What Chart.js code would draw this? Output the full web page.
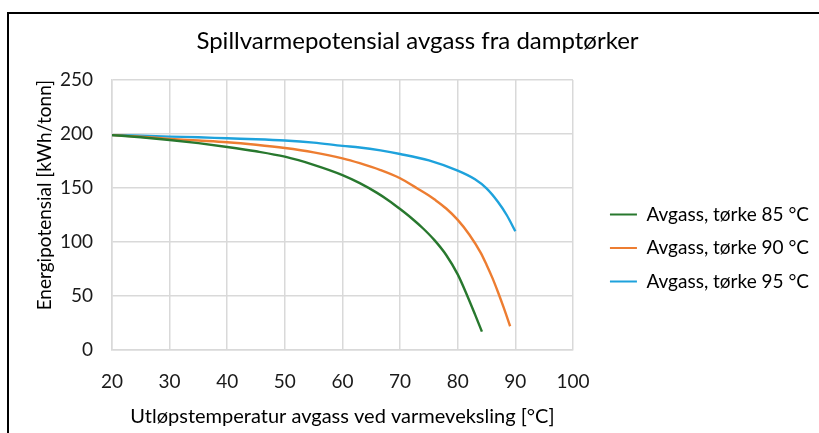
<!DOCTYPE html>
<html>
<head>
<meta charset="utf-8">
<script src="https://cdn.jsdelivr.net/npm/chart.js@4.4.1/dist/chart.umd.min.js"></script>
<style>
html,body{margin:0;padding:0;background:#fff;}
#wrap{width:819px;height:433px;position:relative;}
</style>
</head>
<body>
<div id="wrap"><canvas id="c" width="819" height="433"></canvas></div>
<script>
const chartTitle = "Spillvarmepotensial avgass fra damptørker";
const xTitle = "Utløpstemperatur avgass ved varmeveksling [°C]";
const yTitle = "Energipotensial [kWh/tonn]";
const seriesNames = ["Avgass, tørke 85 °C", "Avgass, tørke 90 °C", "Avgass, tørke 95 °C"];
const seriesColors = ["#28782E", "#ED7D31", "#1EA2DC"];
const xTicks = [20, 30, 40, 50, 60, 70, 80, 90, 100];
const yTicks = [0, 50, 100, 150, 200, 250];

const x85 = [20, 25, 30, 35, 40, 45, 50, 55, 60, 63, 66, 68, 70, 72, 74, 76, 78, 80, 81.6, 83, 84.2];
const y85 = [199, 197, 194.5, 191.5, 188, 184, 179, 171.5, 162, 154.5, 145.5, 138.5, 130.5, 122, 112.5, 101.5, 88, 70, 51, 33, 17];

const x90 = [20, 25, 30, 35, 40, 45, 50, 55, 60, 63, 66.6, 70, 73, 75, 76, 78, 80, 82, 84, 85, 86, 87, 88, 89.1];
const y90 = [199, 197.5, 195.5, 194, 192.4, 190, 187, 183, 177.5, 173, 166.6, 159, 149.5, 143, 139.3, 131, 120.5, 107, 90, 79, 67, 53.5, 39, 22];

const x95 = [20, 25, 30, 35, 40, 45, 50, 55, 60, 63, 66.6, 70, 75, 80, 83, 85, 87, 88.5, 90];
const y95 = [199, 198.5, 197.6, 197, 196, 195.2, 194, 192, 189, 187.5, 184.8, 181.5, 175.5, 166, 158, 149.6, 137, 125, 110];

const FONT = "Lato, 'Open Sans', sans-serif";
const xs = [x85, x90, x95], ys = [y85, y90, y95];

const datasets = seriesNames.map((name, i) => ({
  label: name,
  data: xs[i].map((x, j) => ({x: x, y: ys[i][j]})),
  borderColor: seriesColors[i],
  backgroundColor: seriesColors[i],
  borderWidth: 2.4,
  pointRadius: 0,
  cubicInterpolationMode: 'monotone',
  fill: false
}));

const framePlugin = {
  id: 'frame',
  afterLayout(chart) {
    const t = chart.titleBlock;
    if (t) { t.left -= 8.5; t.right -= 8.5; }
  },
  afterDraw(chart) {
    const ctx = chart.ctx;
    ctx.save();
    ctx.strokeStyle = '#000';
    ctx.lineWidth = 2;
    ctx.beginPath();
    ctx.moveTo(8, 433);
    ctx.lineTo(8, 13);
    ctx.lineTo(819, 13);
    ctx.stroke();
    ctx.restore();
  }
};

new Chart(document.getElementById('c'), {
  type: 'line',
  data: {datasets},
  plugins: [framePlugin],
  options: {
    responsive: false,
    animation: false,
    layout: {padding: {left: 33, right: 0, top: 17, bottom: 4}},
    plugins: {
      title: {
        display: true,
        text: chartTitle,
        color: '#000',
        font: {family: FONT, size: 24, weight: 'normal'},
        padding: {top: 10, bottom: 24.2}
      },
      legend: {
        display: true,
        position: 'right',
        maxWidth: 400,
        title: {display: true, text: '', font: {size: 10}, padding: {top: 19, bottom: 19}},
        labels: {
          color: '#000',
          font: {family: FONT, size: 19},
          boxWidth: 27,
          boxHeight: 2,
          padding: 14.5,
          generateLabels(chart) {
            return chart.data.datasets.map((d, i) => ({
              text: d.label,
              fillStyle: d.borderColor,
              strokeStyle: d.borderColor,
              lineWidth: 0,
              hidden: false,
              datasetIndex: i,
              fontColor: '#000'
            }));
          }
        }
      },
      tooltip: {enabled: false}
    },
    scales: {
      x: {
        type: 'linear',
        min: 20, max: 100,
        afterBuildTicks(s) { s.ticks = xTicks.map(v => ({value: v})); },
        afterFit(s) { s.height = 79; },
        grid: {color: '#D9D9D9', lineWidth: 1.5, drawTicks: false},
        border: {color: '#D9D9D9', width: 1.5},
        ticks: {color: '#1a1a1a', font: {family: FONT, size: 19}, padding: 20.5, maxRotation: 0},
        title: {display: true, text: xTitle, color: '#000', font: {family: FONT, size: 20}, padding: {top: 0, bottom: 0}}
      },
      y: {
        type: 'linear',
        min: 0, max: 250,
        afterBuildTicks(s) { s.ticks = yTicks.map(v => ({value: v})); },
        afterFit(s) { s.width = 79; },
        grid: {color: '#D9D9D9', lineWidth: 1.5, drawTicks: false},
        border: {color: '#D9D9D9', width: 1.5},
        ticks: {color: '#1a1a1a', font: {family: FONT, size: 19}, padding: 19},
        title: {display: true, align: 'end', text: yTitle, color: '#000', font: {family: FONT, size: 19}, padding: {top: 0, bottom: 0}}
      },
      spacer: {
        type: 'linear',
        position: 'right',
        display: true,
        grid: {display: false, drawTicks: false},
        border: {display: false},
        ticks: {display: false},
        afterFit(s) { s.width = 22.5; }
      }
    }
  }
});
</script>
</body>
</html>
